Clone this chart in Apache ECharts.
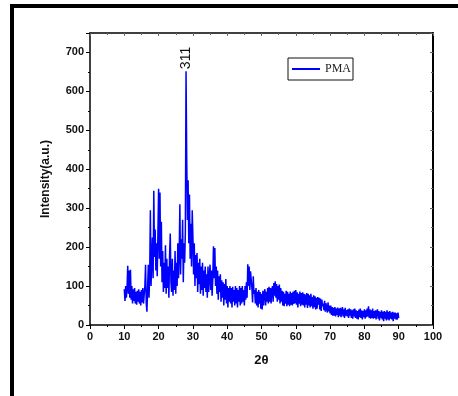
<!DOCTYPE html>
<html>
<head>
<meta charset="utf-8">
<script src="https://cdn.jsdelivr.net/npm/echarts@6/dist/echarts.min.js"></script>
<style>html,body{margin:0;padding:0;background:#fff}#c{width:458px;height:396px}</style>
</head>
<body>
<div id="c"></div>
<script>
// 2θ sampling: start and step of the scan (degrees)
const twoThetaStart = 10;
const twoThetaStep = 0.2;
// Intensity (a.u.), one value per 0.2° from 10° to 90°
const intensityPMA = [
  92, 62, 100, 70, 95,
  152, 80, 140, 70, 142,
  65, 100, 55, 92, 62,
  95, 55, 85, 52, 88,
  60, 92, 55, 85, 50,
  90, 58, 95, 55, 78,
  100, 155, 55, 34, 95,
  155, 70, 125, 295, 100,
  170, 225, 120, 345, 175,
  245, 140, 210, 125, 235,
  350, 170, 340, 150, 265,
  110, 190, 85, 160, 95,
  205, 80, 170, 95, 150,
  70, 180, 235, 110, 85,
  170, 75, 140, 90, 190,
  80, 160, 100, 210, 120,
  180, 310, 130, 220, 170,
  270, 110, 210, 160, 240,
  652, 430, 270, 372, 210,
  335, 170, 260, 150, 295,
  228, 130, 210, 100, 180,
  120, 185, 85, 160, 105,
  170, 80, 150, 90, 160,
  75, 140, 95, 150, 85,
  130, 70, 150, 85, 125,
  155, 90, 140, 75, 120,
  202, 120, 198, 100, 150,
  80, 140, 65, 125, 85,
  130, 60, 115, 70, 110,
  50, 105, 65, 118, 55,
  100, 45, 95, 60, 100,
  55, 95, 45, 98, 60,
  90, 50, 100, 55, 95,
  45, 90, 60, 100, 50,
  95, 55, 100, 60, 90,
  50, 100, 65, 110, 70,
  156, 100, 150, 90, 138,
  140, 95, 58, 125, 80,
  90, 55, 95, 50, 85,
  45, 90, 55, 85, 42,
  80, 40, 88, 50, 82,
  92, 50, 85, 60, 95,
  55, 98, 60, 95, 55,
  90, 100, 60, 108, 75,
  112, 70, 105, 60, 100,
  65, 104, 55, 95, 60,
  88, 50, 85, 48, 80,
  55, 88, 48, 85, 52,
  80, 48, 86, 52, 82,
  50, 85, 54, 88, 56,
  90, 52, 84, 45, 80,
  55, 86, 48, 82, 52,
  84, 50, 80, 45, 78,
  52, 82, 44, 80, 50,
  76, 45, 80, 48, 72,
  42, 76, 46, 74, 40,
  70, 42, 72, 52, 70,
  40, 68, 36, 65, 48,
  55, 38, 62, 34, 56,
  52, 32, 58, 35, 50,
  30, 50, 26, 46, 24,
  44, 24, 46, 22, 42,
  26, 45, 20, 42, 24,
  44, 20, 38, 46, 22,
  40, 18, 44, 24, 38,
  22, 40, 18, 42, 24,
  40, 18, 38, 16, 40,
  22, 42, 18, 38, 16,
  36, 14, 40, 20, 42,
  18, 38, 14, 36, 20,
  40, 16, 38, 20, 42,
  22, 48, 18, 40, 16,
  38, 18, 42, 16, 36,
  18, 38, 14, 34, 40,
  16, 36, 12, 34, 18,
  38, 14, 34, 10, 36,
  16, 34, 12, 38, 14,
  34, 12, 36, 16, 32,
  14, 34, 10, 32, 16,
  32, 14, 30, 14, 32,
  18
];
const peakLabel = '311';
const peakPosition = [28, 652];
const seriesName = 'PMA';

const seriesData = intensityPMA.map((v, i) => [+(twoThetaStart + i * twoThetaStep).toFixed(1), v]);

const chart = echarts.init(document.getElementById('c'), null, {renderer: 'canvas'});
const lab = {fontFamily: 'Liberation Sans, Arial', fontWeight: 'bold', fontSize: 11, color: '#111'};
chart.setOption({
  animation: false,
  backgroundColor: '#fff',
  grid: {left: 90, right: 25, top: 33, bottom: 71},
  legend: {
    data: [seriesName], left: 288, top: 58,
    borderColor: '#111', borderWidth: 1, padding: [5, 2, 5, 4],
    itemWidth: 28, itemHeight: 2, icon: 'rect',
    textStyle: {fontFamily: 'Liberation Serif, Times New Roman', fontSize: 12, color: '#222'}
  },
  xAxis: [{
    type: 'value', min: 0, max: 100, interval: 10, position: 'bottom',
    name: '2θ', nameLocation: 'middle', nameGap: 29,
    nameTextStyle: {fontFamily: 'Liberation Sans, Arial', fontWeight: 'bold', fontSize: 13, color: '#111'},
    axisLine: {show: true, onZero: false, lineStyle: {color: '#000', width: 1.5}},
    axisTick: {show: true, length: 4, lineStyle: {color: '#000', width: 1}},
    minorTick: {show: true, splitNumber: 2, length: 2, lineStyle: {color: '#000'}},
    axisLabel: Object.assign({margin: 6}, lab), splitLine: {show: false}
  }, {
    type: 'value', min: 0, max: 100, interval: 10, position: 'top',
    axisLine: {show: true, onZero: false, lineStyle: {color: '#000', width: 1.5}},
    axisTick: {show: true, inside: true, length: 3, lineStyle: {color: '#666'}},
    minorTick: {show: true, splitNumber: 2, length: 2, lineStyle: {color: '#666'}},
    axisLabel: {show: false}, splitLine: {show: false}
  }],
  yAxis: [{
    type: 'value', min: 0, max: 750, interval: 100, position: 'left',
    name: 'Intensity(a.u.)', nameLocation: 'middle', nameGap: 38,
    nameTextStyle: {fontFamily: 'Liberation Sans, Arial', fontWeight: 'bold', fontSize: 12, color: '#111'},
    axisLine: {show: true, onZero: false, lineStyle: {color: '#000', width: 1.5}},
    axisTick: {show: true, length: 4, lineStyle: {color: '#000'}},
    minorTick: {show: true, splitNumber: 2, length: 2, lineStyle: {color: '#000'}},
    axisLabel: Object.assign({margin: 6, formatter: v => (v % 100 === 0 ? String(v) : '')}, lab),
    splitLine: {show: false}
  }, {
    type: 'value', min: 0, max: 750, interval: 100, position: 'right',
    axisLine: {show: true, onZero: false, lineStyle: {color: '#000', width: 2}},
    axisTick: {show: true, inside: true, length: 3, lineStyle: {color: '#666'}},
    minorTick: {show: true, splitNumber: 2, length: 2, lineStyle: {color: '#666'}},
    axisLabel: {show: false}, splitLine: {show: false}
  }],
  series: [{
    name: seriesName, type: 'line', data: seriesData, showSymbol: false, symbol: 'none',
    lineStyle: {color: '#0000ff', width: 1.5}, itemStyle: {color: '#0000ff'}
  }]
});
const p = chart.convertToPixel({gridIndex: 0}, peakPosition);
chart.setOption({
  graphic: [
    {type: 'rect', shape: {x: 10, y: 4, width: 448, height: 4}, style: {fill: '#000'}},
    {type: 'rect', shape: {x: 10, y: 4, width: 4, height: 392}, style: {fill: '#000'}},
    {type: 'text', x: p[0], y: p[1] - 2, rotation: Math.PI / 2,
     style: {text: peakLabel, fontFamily: 'Liberation Sans, Arial', fontSize: 14, fill: '#111',
             align: 'left', verticalAlign: 'middle'}}
  ]
});
</script>
</body>
</html>
